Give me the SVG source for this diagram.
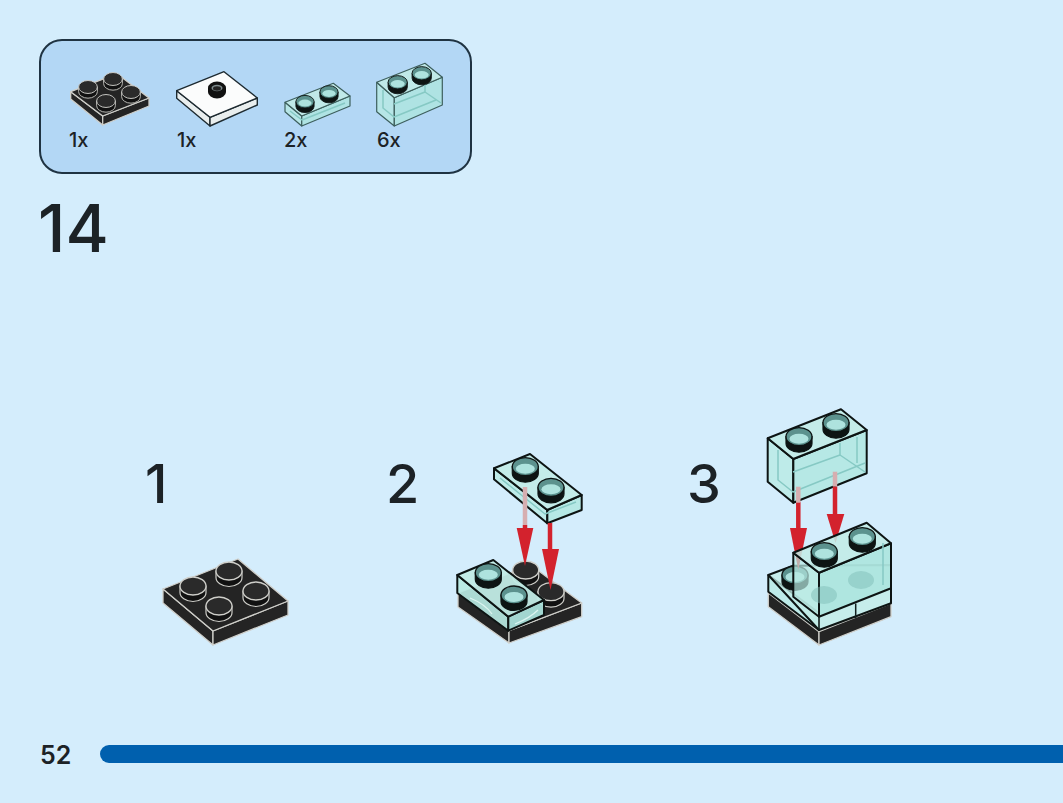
<svg xmlns="http://www.w3.org/2000/svg" width="1063" height="803" viewBox="0 0 1063 803">
<style>
.t{font-family:"Inter","Liberation Sans",sans-serif;fill:#1c2226}
.c{font-size:20px;font-weight:500}
.n{font-size:54px;font-weight:550}
.bk{fill:#242424;stroke:#cfcfca;stroke-width:1.3;stroke-linejoin:round}
.wt{fill:#fbfcfc;stroke:#1d2a30;stroke-width:1.4;stroke-linejoin:round}
.ws{fill:#e9eeee;stroke:#1d2a30;stroke-width:1.4;stroke-linejoin:round}
.a{fill:#c2ece6;fill-opacity:.88;stroke:#0d1413;stroke-width:2;stroke-linejoin:round}
.b{fill:#b8eae3;fill-opacity:.8;stroke:#0d1413;stroke-width:2;stroke-linejoin:round}
.d{fill:#aee6df;fill-opacity:.8;stroke:#0d1413;stroke-width:2;stroke-linejoin:round}
.a1{stroke:#3d5f5d;stroke-width:1.2}
.g{fill:none;stroke:#86c9c4;stroke-width:1.5;stroke-linejoin:round}
.gl{fill:none;stroke:#dcf5f1;stroke-width:1.3}
.h{fill:#7fbdb7;opacity:.5;stroke:none}
.r{fill:#d3222d}
.rs{stroke:#d3222d;stroke-width:4.5;fill:none}
.rl{stroke:#d6aeb0;stroke-width:4.5;fill:none}
</style>
<defs>
<g id="studB">
<path d="M-13 0V6.500A13 9 0 0 0 13 6.500V0Z" fill="#111" stroke="#cfcfca" stroke-width="1.2"/>
<ellipse rx="13" ry="9" fill="#2a2a2a" stroke="#cfcfca" stroke-width="1.3"/>
</g>
<g id="studT">
<path d="M-13 0V6.500A13 9 0 0 0 13 6.500V0Z" fill="#0d1413" stroke="#0d1413" stroke-width="1.2"/>
<ellipse rx="13" ry="9" fill="#5c928e" stroke="#0d1413" stroke-width="1.300"/>
<ellipse cy="2" rx="9.500" ry="5" fill="#aee3de"/>
</g>
</defs>
<rect width="1063" height="803" fill="#d4edfc"/>
<g id="parts-panel">
<rect x="40" y="40" width="431" height="133" rx="22" fill="#b3d7f5" stroke="#1f3342" stroke-width="2"/>
<text class="t c" x="69" y="147">1x</text>
<text class="t c" x="177" y="147">1x</text>
<text class="t c" x="284" y="147">2x</text>
<text class="t c" x="377" y="147">6x</text>
</g>
<g id="part-black-plate">
<path class="bk" d="M70.700 91.700L102.700 116V125L70.700 99Z"/>
<path class="bk" d="M102.700 116L149 98V106L102.700 125Z"/>
<path class="bk" d="M70.700 91.700L117 73.700L149 98L102.700 116Z"/>
<use href="#studB" transform="translate(113 79) scale(.72)"/>
<use href="#studB" transform="translate(88 87) scale(.72)"/>
<use href="#studB" transform="translate(131 92) scale(.72)"/>
<use href="#studB" transform="translate(106 101) scale(.72)"/>
</g>
<g id="part-white-tile">
<path class="ws" d="M176.700 90.700L210 117.300V126L176.700 98.300Z"/>
<path class="ws" d="M210 117.300L257.300 98V105L210 126Z"/>
<path class="wt" d="M176.700 90.700L224 71.700L257.300 98L210 117.300Z"/>
<path d="M208 88V92A9 6.500 0 0 0 226 92V88Z" fill="#111"/>
<ellipse cx="217" cy="88" rx="9" ry="6.500" fill="#111"/>
<ellipse cx="217" cy="88" rx="5.500" ry="3.200" fill="#7d8a8c"/>
<ellipse cx="217" cy="88.500" rx="4" ry="2.200" fill="#222"/>
</g>
<g id="part-clear-plate">
<path class="b a1" d="M285 102.300L301.700 116V126L285 111.700Z"/>
<path class="d a1" d="M301.700 116L350 96V106L301.700 126Z"/>
<path class="a a1" d="M285 102.300L333.300 83.300L350 96L301.700 116Z"/>
<path class="g" d="M290 111L302 120L345 103"/>
<use href="#studT" transform="translate(305 101.700) scale(.7)"/>
<use href="#studT" transform="translate(329 92) scale(.7)"/>
</g>
<g id="part-clear-brick">
<path class="b a1" d="M376.700 82.300L394.300 97.700V126L376.700 111.700Z"/>
<path class="d a1" d="M394.300 97.700L442.300 77.300V105L394.300 126Z"/>
<path class="a a1" d="M376.700 82.300L425 63.300L442.300 77.300L394.300 97.700Z"/>
<path class="g" d="M383 90V108L394 117L436 100M394 104L425 92L441 103M425 84V92"/>
<use href="#studT" transform="translate(397.700 82.300) scale(.74)"/>
<use href="#studT" transform="translate(421.700 73.300) scale(.74)"/>
</g>
<g id="step-14"><text class="t" style="font-size:66px;font-weight:550" x="38" y="252">14</text></g>
<g id="step-1">
<text class="t n" x="145" y="503">1</text>
<path class="bk" d="M163 589L213 631V645L163 603Z"/>
<path class="bk" d="M213 631L288 601V615L213 645Z"/>
<path class="bk" d="M163 589L238 559L288 601L213 631Z"/>
<use href="#studB" transform="translate(229 571)"/>
<use href="#studB" transform="translate(193 586)"/>
<use href="#studB" transform="translate(256 591)"/>
<use href="#studB" transform="translate(219 606)"/>
</g>
<g id="step-2">
<text class="t n" x="386" y="503">2</text>
<g id="step-2-base">
<path class="bk" d="M458 593L509 630.700V643L458 607Z"/>
<path class="bk" d="M509 630.700L581.700 603V616.700L509 643Z"/>
<path class="bk" d="M458 593L530.700 565L581.700 603L509 630.700Z"/>
<use href="#studB" transform="translate(525.700 570)"/>
<use href="#studB" transform="translate(551 591.700)"/>
</g>
<g id="step-2-placed">
<path class="b" style="fill-opacity:.92" d="M457.300 575L508.300 616.700V630.700L457.300 593Z"/>
<path class="d" style="fill-opacity:.92" d="M508.300 616.700L544 600V615L508.300 630.700Z"/>
<path class="a" style="fill-opacity:.95" d="M457.300 575L493.300 560L544 600L508.300 616.700Z"/>
<path class="gl" d="M470 598Q485 604 492 614M515 624Q530 618 538 610"/>
<use href="#studT" transform="translate(488.300 572.700)"/>
<use href="#studT" transform="translate(514 595)"/>
</g>
<g id="step-2-upper">
<path class="b" d="M494 468.300L547.300 510V523.300L494 479.300Z"/>
<path class="d" d="M547.300 510L581.700 495V510L547.300 523.300Z"/>
<path class="a" d="M494 468.300L530 454L581.700 495L547.300 510Z"/>
<path class="g" d="M500 478L545 514L576 502"/>
<use href="#studT" transform="translate(525.300 466.700)"/>
<use href="#studT" transform="translate(551 487.300)"/>
</g>
</g>
<g id="step-3">
<text class="t n" x="687" y="503">3</text>
<g id="step-3-base">
<path class="bk" d="M768.300 593L819 631.700V645L768.300 606.700Z"/>
<path class="bk" d="M819 631.700L891 603.300V616.700L819 645Z"/>
<path class="b" d="M768.300 575L819 613V630L768.300 591.700Z"/>
<path class="a" d="M768.300 575L793 565.700L891 565V603.300L819 630Z" style="fill-opacity:.75"/>
<use href="#studT" transform="translate(795 575)"/>
</g>
<g id="step-3-upper">
<path class="b" d="M767.700 438.300L793.300 459V502.700L767.700 481.700Z"/>
<path class="d" d="M793.300 459L866.700 430V473.300L793.300 502.700Z"/>
<path class="a" d="M767.700 438.300L841 409.300L866.700 430L793.300 459Z"/>
<path class="g" d="M778 450V480L793 492L865 463M793 472L840 455L865 472M840 443V455M857 437V463"/>
<use href="#studT" transform="translate(799 436.700)"/>
<use href="#studT" transform="translate(836 422.700)"/>
</g>
</g>
<g id="connectors">
<path class="rl" d="M525 487V525"/>
<path class="rs" d="M525 525V540"/>
<path class="r" d="M516.700 528H533.300L525 566Z"/>
<path class="rs" d="M550 523V552"/>
<path class="r" d="M542 549H559L550.500 590Z"/>
<path class="rs" d="M798.300 502V530"/>
<path class="rl" d="M798.300 486.700V502.700"/>
<path class="r" d="M790 528H807L798.300 570Z"/>
<path class="rl" d="M835 471.700V486.700"/>
<path class="rs" d="M835 486.700V516"/>
<path class="r" d="M826.700 514H844.300L835.500 543Z"/>
</g>
<g id="step-3-placed">
<path class="b" d="M793.300 552.700L819 572.700V616.700L793.300 596.700Z" style="fill-opacity:.7"/>
<path class="d" d="M819 572.700L891 543.300V588.300L819 616.700Z" style="fill-opacity:.95"/>
<path class="a" d="M793.300 552.700L866.700 522.700L891 543.300L819 572.700Z"/>
<ellipse class="h" cx="861" cy="580" rx="13" ry="9"/>
<ellipse class="h" cx="824" cy="595" rx="13" ry="9"/>
<path d="M855.700 603.500V618M819 616.700V630" stroke="#12211f" stroke-width="1.500"/>
<path d="M883 543V585" stroke="#86c9c4" stroke-width="1.500"/>
<use href="#studT" transform="translate(824.300 551.700)"/>
<use href="#studT" transform="translate(862.300 536.700)"/>
</g>
<g id="page-footer">
<text class="t" style="font-size:25px;font-weight:600" x="40" y="764">52</text>
<rect x="100" y="745" width="980" height="18" rx="9" fill="#0060ae"/>
</g>
</svg>
